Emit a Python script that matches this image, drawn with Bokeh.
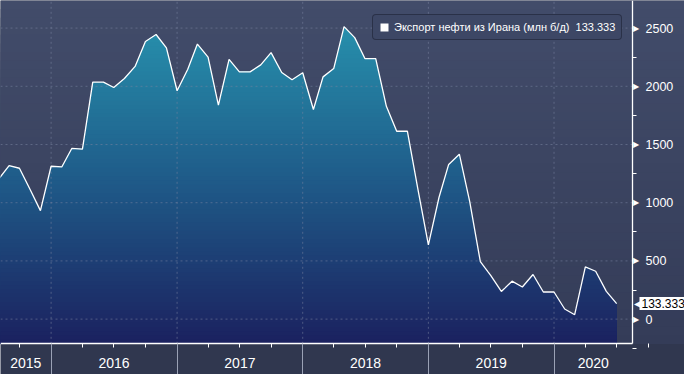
import numpy as np
import pandas as pd
from bokeh.plotting import figure
from bokeh.models import (FixedTicker, Range1d, Label, LinearAxis, DatetimeAxis,
                          Legend, LegendItem, CustomJSTickFormatter, DatetimeTickFormatter)
from bokeh.embed import file_html
from bokeh.resources import INLINE

# ---------------- data ----------------
months = pd.date_range("2015-08-01", "2020-07-01", freq="MS")
values = [1200, 1318, 1296, 1114, 932,
          1313, 1307, 1466, 1461, 2036, 2036, 1990, 2067, 2171, 2385, 2445, 2330,
          1962, 2146, 2363, 2250, 1839, 2231, 2124, 2124, 2184, 2289, 2119, 2056,
          2116, 1801, 2081, 2152, 2513, 2418, 2237, 2237, 1828, 1614, 1614, 1126,
          638, 1047, 1329, 1417, 1011, 493, 375, 238, 326, 276, 383, 233,
          233, 87, 38, 449, 411, 238, 133.333]
series_name = "Экспорт нефти из Ирана (млн б/д)"
last_text = "133.333"
year_labels = ["2015", "2016", "2017", "2018", "2019", "2020"]
y_ticks = [0, 500, 1000, 1500, 2000, 2500]
y_minor = [-250, 250, 750, 1250, 1750, 2250, 2750]

W, H = 684, 374

# ---------------- helpers ----------------
def ms(ts):
    return pd.Timestamp(ts).value / 1e6

x = np.array([ms(m) for m in months])
y = np.array(values, dtype=float)

# plot region (axes drawn at fixed locations inside the frame)
X0, XS = ms("2015-08-07"), ms("2020-08-16")        # left edge, right spine
XS_PX, YS_PX = 632.0, 343.3                          # spine positions in px
X1 = X0 + (XS - X0) * W / XS_PX
YTOP, YS = 2737.0, -212.0                            # top value, bottom spine value
YB = YS - (YTOP - YS) * (H - YS_PX) / YS_PX

def hexrgb(h):
    h = h.lstrip("#")
    return np.array([int(h[i:i + 2], 16) for i in (0, 2, 4)], dtype=float)

def interp_color(v, stops):
    vs = [s[0] for s in stops]
    cs = [hexrgb(s[1]) for s in stops]
    rgb = [np.interp(v, vs, [c[i] for c in cs]) for i in range(3)]
    return "#%02x%02x%02x" % tuple(int(round(c)) for c in rgb)

def densify(xs, ys, levels):
    ox, oy = [xs[0]], [ys[0]]
    for i in range(len(xs) - 1):
        xa, ya, xb, yb = xs[i], ys[i], xs[i + 1], ys[i + 1]
        cr = []
        for L in levels:
            if min(ya, yb) < L < max(ya, yb):
                t = (L - ya) / (yb - ya)
                cr.append((xa + t * (xb - xa), L))
        cr.sort(key=lambda q: q[0])
        for cx, cy in cr:
            ox.append(cx)
            oy.append(cy)
        ox.append(xb)
        oy.append(yb)
    return np.array(ox), np.array(oy)

# ---------------- figure ----------------
p = figure(width=W, height=H, x_axis_type=None, y_axis_type=None,
           x_range=Range1d(X0, X1), y_range=Range1d(YB, YTOP),
           output_backend="svg", toolbar_location=None,
           min_border_left=0, min_border_top=0, min_border_right=0, min_border_bottom=0)
p.background_fill_color = "#30374f"
p.border_fill_color = "#30374f"
p.outline_line_color = None
p.grid.visible = False

# background gradient (cumulative quads, top first)
bg_stops = [(YS, "#343c58"), (YTOP, "#424c6a")]
bg_edges = np.linspace(YS, YTOP, 41)[1:]
for top in bg_edges[::-1]:
    p.quad(left=X0, right=X1, bottom=YS, top=top,
           fill_color=interp_color(top - 35, bg_stops), line_color=None)

# area with vertical gradient
fill_stops = [(YS, "#1b215f"), (1250, "#1f5d8a"), (YTOP, "#2898b2")]
levels = list(np.arange(YS, max(values) + 40, 36.0))
xd, yd = densify(x, y, levels)
for lev in levels[::-1]:
    p.varea(x=xd, y1=np.full(len(xd), YS), y2=np.minimum(yd, lev),
            fill_color=interp_color(lev - 18, fill_stops))

# grid lines (dotted), within the plot region only
year_starts = [ms(d) for d in pd.date_range("2016-01-01", "2020-01-01", freq="YS")]
quarters = [ms(d) for d in pd.date_range("2015-07-01", "2020-10-01", freq="QS") if d.month != 1]
p.segment(x0=X0, x1=XS, y0=y_ticks, y1=y_ticks, line_color="#7a84a0", line_alpha=0.55,
          line_dash="2 3", line_width=1)
p.segment(x0=year_starts, x1=year_starts, y0=YS, y1=YTOP, line_color="#7a84a0",
          line_alpha=0.55, line_dash="2 3", line_width=1)

# the series
p.line(x, y, line_color="white", line_width=1.3)

FONT = "Liberation Sans"

# x axis: spine, quarter ticks, year separators
xa = DatetimeAxis(fixed_location=YS, bounds=(X0, XS))
xa.ticker = FixedTicker(ticks=year_starts, minor_ticks=quarters)
xa.formatter = CustomJSTickFormatter(code="return ''")
xa.major_label_text_font_size = "1px"
xa.axis_line_color = "white"
xa.axis_line_width = 1.3
xa.major_tick_line_color = "#9aa1b5"
xa.major_tick_out = 32
xa.major_tick_in = 0
xa.minor_tick_line_color = "white"
xa.minor_tick_out = 4
xa.minor_tick_in = 0
p.add_layout(xa, "below")

# x axis: year labels centred on the visible part of each year
mids = []
for yl in year_labels:
    a = max(ms(f"{yl}-01-01"), X0)
    b = min(ms(f"{int(yl) + 1}-01-01"), XS)
    mids.append((a + b) / 2)
xl = DatetimeAxis(fixed_location=YS)
xl.ticker = FixedTicker(ticks=mids, minor_ticks=[])
xl.formatter = DatetimeTickFormatter(milliseconds="%Y", seconds="%Y", minsec="%Y", minutes="%Y",
                                     hourmin="%Y", hours="%Y", days="%Y", months="%Y", years="%Y")
xl.axis_line_color = None
xl.major_tick_line_color = None
xl.minor_tick_line_color = None
xl.major_tick_out = 0
xl.major_label_standoff = 14
xl.major_label_text_color = "white"
xl.major_label_text_font = FONT
xl.major_label_text_font_size = "14px"
p.add_layout(xl, "below")

# y axis on the right
ya = LinearAxis(fixed_location=XS, bounds=(YS, YTOP))
ya.ticker = FixedTicker(ticks=y_ticks, minor_ticks=y_minor)
ya.axis_line_color = "white"
ya.axis_line_width = 1.3
ya.major_tick_out = 0
ya.major_tick_in = 0
ya.minor_tick_line_color = "white"
ya.minor_tick_out = 4
ya.minor_tick_in = 0
ya.major_label_text_color = "white"
ya.major_label_text_font = FONT
ya.major_label_text_font_size = "12.5px"
ya.major_label_standoff = 9
p.add_layout(ya, "right")

# triangle flags at y ticks
for t in y_ticks:
    p.add_layout(Label(x=XS, y=t, text="\u25B6", text_color="white", text_font_size="8px",
                       text_baseline="middle", text_align="left", x_offset=0))

# last value tag
tag = Label(x=XS, y=y[-1], x_offset=7, text=last_text, text_color="black",
            text_font=FONT, text_font_size="12px", text_align="left", text_baseline="middle",
            background_fill_color="white")
try:
    tag.padding = 2
except Exception:
    pass
p.add_layout(tag)
p.add_layout(Label(x=XS, y=y[-1], x_offset=1, text="\u25C0", text_color="white",
                   text_font_size="10px", text_align="left", text_baseline="middle"))

# legend
sq = p.quad(left=[X0], right=[X0], bottom=[YB - 100], top=[YB - 50],
            fill_color="white", line_color=None)
legend = Legend(items=[LegendItem(label=series_name + "  " + last_text, renderers=[sq])],
                location=(372, 334))
legend.background_fill_color = "#3d4765"
legend.background_fill_alpha = 1
legend.border_line_color = "#171c2c"
legend.border_line_width = 1
legend.label_text_color = "white"
legend.label_text_font = FONT
legend.label_text_font_size = "11px"
legend.glyph_width = 10
legend.glyph_height = 10
legend.label_height = 12
legend.label_standoff = 5
legend.padding = 6
legend.margin = 0
try:
    legend.border_radius = 4
except Exception:
    pass
p.add_layout(legend)

open("out.html", "w").write(file_html(p, INLINE))
